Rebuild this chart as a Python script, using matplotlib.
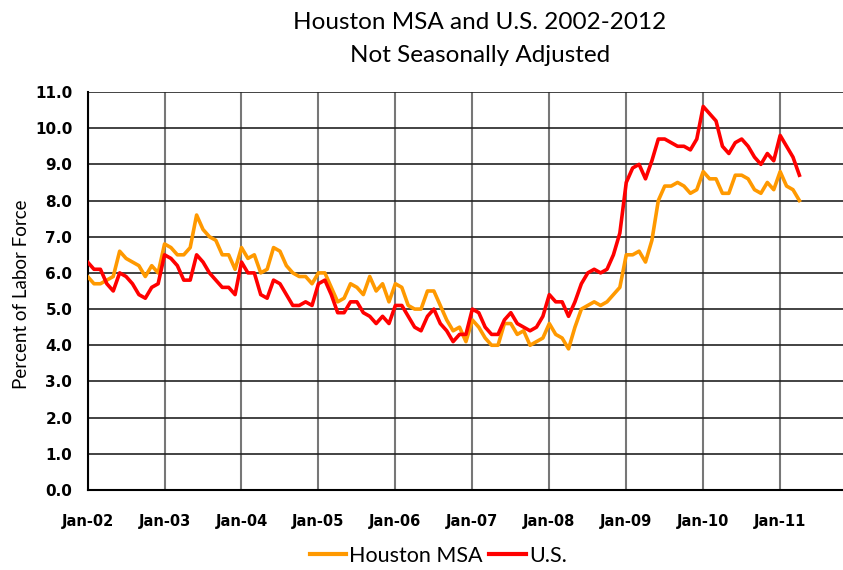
import numpy as np
import matplotlib
matplotlib.use("Agg")
import matplotlib.pyplot as plt
from matplotlib.lines import Line2D

# monthly unemployment rate, Jan-02 .. Apr-11
houston = [5.9, 5.7, 5.7, 5.8, 5.9, 6.6, 6.4, 6.3, 6.2, 5.9, 6.2, 6.0,
           6.8, 6.7, 6.5, 6.5, 6.7, 7.6, 7.2, 7.0, 6.9, 6.5, 6.5, 6.1,
           6.7, 6.4, 6.5, 6.0, 6.1, 6.7, 6.6, 6.2, 6.0, 5.9, 5.9, 5.7,
           6.0, 6.0, 5.6, 5.2, 5.3, 5.7, 5.6, 5.4, 5.9, 5.5, 5.7, 5.2,
           5.7, 5.6, 5.1, 5.0, 5.0, 5.5, 5.5, 5.1, 4.7, 4.4, 4.5, 4.1,
           4.7, 4.5, 4.2, 4.0, 4.0, 4.6, 4.6, 4.3, 4.4, 4.0, 4.1, 4.2,
           4.6, 4.3, 4.2, 3.9, 4.5, 5.0, 5.1, 5.2, 5.1, 5.2, 5.4, 5.6,
           6.5, 6.5, 6.6, 6.3, 6.9, 8.0, 8.4, 8.4, 8.5, 8.4, 8.2, 8.3,
           8.8, 8.6, 8.6, 8.2, 8.2, 8.7, 8.7, 8.6, 8.3, 8.2, 8.5, 8.3,
           8.8, 8.4, 8.3, 8.0]
us = [6.3, 6.1, 6.1, 5.7, 5.5, 6.0, 5.9, 5.7, 5.4, 5.3, 5.6, 5.7,
      6.5, 6.4, 6.2, 5.8, 5.8, 6.5, 6.3, 6.0, 5.8, 5.6, 5.6, 5.4,
      6.3, 6.0, 6.0, 5.4, 5.3, 5.8, 5.7, 5.4, 5.1, 5.1, 5.2, 5.1,
      5.7, 5.8, 5.4, 4.9, 4.9, 5.2, 5.2, 4.9, 4.8, 4.6, 4.8, 4.6,
      5.1, 5.1, 4.8, 4.5, 4.4, 4.8, 5.0, 4.6, 4.4, 4.1, 4.3, 4.3,
      5.0, 4.9, 4.5, 4.3, 4.3, 4.7, 4.9, 4.6, 4.5, 4.4, 4.5, 4.8,
      5.4, 5.2, 5.2, 4.8, 5.2, 5.7, 6.0, 6.1, 6.0, 6.1, 6.5, 7.1,
      8.5, 8.9, 9.0, 8.6, 9.1, 9.7, 9.7, 9.6, 9.5, 9.5, 9.4, 9.7,
      10.6, 10.4, 10.2, 9.5, 9.3, 9.6, 9.7, 9.5, 9.2, 9.0, 9.3, 9.1,
      9.8, 9.5, 9.2, 8.7]
year_labels = ["Jan-02", "Jan-03", "Jan-04", "Jan-05", "Jan-06",
               "Jan-07", "Jan-08", "Jan-09", "Jan-10", "Jan-11"]

months = np.arange(len(us))
orange = "#FF9900"
red = "#FF0000"
tickfont = ["Liberation Sans Narrow", "DejaVu Sans"]
textfont = ["Lato", "DejaVu Sans"]

fig = plt.figure(figsize=(8.43, 5.70), dpi=100)
ax = fig.add_axes([0.1039, 0.1404, 0.8961, 0.6982])

ax.plot(months, houston, color=orange, lw=2.6, zorder=3)
ax.plot(months, us, color=red, lw=2.6, zorder=4)

ax.set_xlim(0, 117.8)
ax.set_ylim(0, 11)
ax.set_yticks(np.arange(0, 11.5, 1.0))
ax.set_yticklabels(["%.1f" % v for v in np.arange(0, 11.5, 1.0)],
                   family=tickfont, fontweight="bold", fontsize=11)
ax.set_xticks(np.arange(len(year_labels)) * 12)
ax.set_xticklabels(year_labels, family=tickfont, fontweight="bold", fontsize=10.5)
ax.tick_params(axis="both", length=0)
ax.tick_params(axis="x", pad=17)
ax.tick_params(axis="y", pad=11)

ax.grid(axis="y", color="#222222", lw=1.2)
ax.grid(axis="x", color="#777777", lw=1.5)
ax.set_axisbelow(True)
for side in ["top", "right"]:
    ax.spines[side].set_visible(False)
ax.spines["left"].set_color("black")
ax.spines["bottom"].set_color("black")
ax.spines["left"].set_linewidth(1.5)
ax.spines["bottom"].set_linewidth(1.5)

fig.text(0.026, 0.483, "Percent of Labor Force", rotation=90,
         ha="center", va="center", family=textfont, fontsize=13.5)
fig.text(0.569, 0.961, "Houston MSA and U.S. 2002-2012", ha="center", va="center",
         family=textfont, fontsize=17.5)
fig.text(0.569, 0.903, "Not Seasonally Adjusted", ha="center", va="center",
         family=textfont, fontsize=17.5)

handles = [Line2D([], [], color=orange, lw=3), Line2D([], [], color=red, lw=3)]
fig.legend(handles, ["Houston MSA", "U.S."], loc="center", bbox_to_anchor=(0.52, 0.025),
           ncol=2, frameon=False, handlelength=1.7, handletextpad=0.15, columnspacing=0.3,
           prop={"family": textfont, "size": 15.5})

fig.savefig("out.png", dpi=100)
